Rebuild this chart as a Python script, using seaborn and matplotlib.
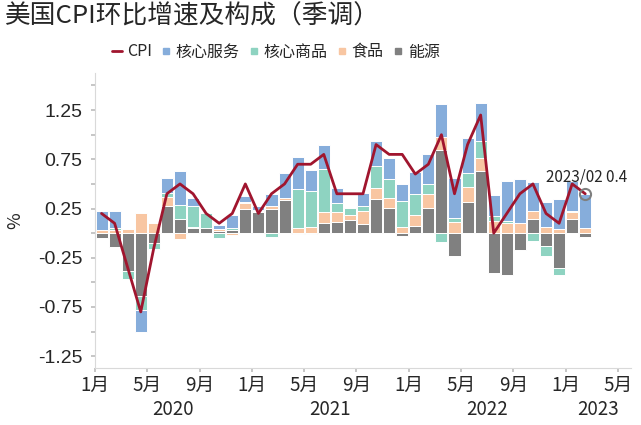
import numpy as np
import pandas as pd
import matplotlib
matplotlib.use('Agg')
import matplotlib.pyplot as plt
import matplotlib.transforms as mtransforms
from matplotlib.lines import Line2D
import seaborn as sns

# --- 数据：美国CPI环比（季调）及各分项拉动，2020/01 - 2023/02 ---
months = pd.date_range('2020-01-01', '2023-02-01', freq='MS').strftime('%Y/%m').tolist()

services = [0.19, 0.17, 0.00, -0.22, 0.00, 0.15, 0.35, 0.08, 0.00, 0.045,
            0.135, 0.06, 0.04, 0.125, 0.25, 0.32, 0.21, 0.25, 0.15, 0.00,
            0.135, 0.256, 0.21, 0.17, 0.23, 0.30, 0.33, 0.41, 0.355, 0.39,
            0.22, 0.40, 0.45, 0.29, 0.245, 0.305, 0.30, 0.34]
goods = [0.00, 0.013, -0.09, -0.14, -0.06, 0.04, 0.145, 0.21, 0.15, -0.045,
         0.013, 0.017, 0.01, -0.04, 0.00, 0.40, 0.37, 0.44, 0.10, 0.07,
         0.057, 0.22, 0.196, 0.26, 0.21, 0.10, -0.085, 0.034, 0.145, 0.17,
         0.05, 0.02, 0.00, -0.077, -0.108, -0.07, 0.017, 0.00]
food = [0.034, 0.037, 0.04, 0.20, 0.10, 0.09, -0.057, 0.015, 0.00, 0.017,
        -0.017, 0.06, 0.02, 0.03, 0.025, 0.05, 0.06, 0.11, 0.10, 0.05,
        0.13, 0.118, 0.094, 0.067, 0.115, 0.14, 0.135, 0.118, 0.15, 0.135,
        0.12, 0.105, 0.105, 0.085, 0.067, 0.042, 0.07, 0.055]
energy = [-0.05, -0.14, -0.38, -0.64, -0.10, 0.28, 0.14, 0.05, 0.05, 0.024,
          0.037, 0.243, 0.21, 0.245, 0.335, -0.01, -0.01, 0.10, 0.11, 0.135,
          0.09, 0.345, 0.26, -0.027, 0.07, 0.26, 0.845, -0.228, 0.32, 0.63,
          -0.405, -0.43, -0.17, 0.14, -0.127, -0.352, 0.142, -0.04]
cpi = [0.2, 0.1, -0.35, -0.8, -0.15, 0.4, 0.5, 0.4, 0.2, 0.1,
       0.2, 0.5, 0.2, 0.4, 0.5, 0.7, 0.7, 0.8, 0.4, 0.4,
       0.4, 0.9, 0.8, 0.8, 0.6, 0.7, 1.0, 0.4, 0.9, 1.2,
       0.0, 0.2, 0.4, 0.5, 0.2, 0.1, 0.5, 0.4]

month_labels = ['1月', '5月', '9月']
years = ['2020', '2021', '2022', '2023']

c_serv, c_goods, c_food, c_energy = '#86ADDB', '#8ED3C1', '#F8C6A2', '#808080'
c_cpi = '#A0152E'

sns.set_theme(style='white')
plt.rcParams['font.family'] = ['Noto Sans CJK SC', 'DejaVu Sans']
plt.rcParams['axes.unicode_minus'] = False

fig = plt.figure(figsize=(6.41, 4.25), dpi=100)
ax = fig.add_axes([95 / 641, 1 - 368 / 425, 536 / 641, 295.3 / 425])

# 堆叠柱：正负分别堆叠，顺序 能源 -> 食品 -> 核心商品 -> 核心服务
x = np.arange(len(months))
pos = np.zeros(len(x))
neg = np.zeros(len(x))
for vals, color in [(energy, c_energy), (food, c_food), (goods, c_goods), (services, c_serv)]:
    v = np.array(vals)
    base = np.where(v >= 0, pos, neg)
    ax.bar(x, v, bottom=base, width=0.92, color=color, edgecolor='white', linewidth=0.7)
    pos += np.clip(v, 0, None)
    neg += np.clip(v, None, 0)

sns.lineplot(x=x, y=cpi, ax=ax, color=c_cpi, linewidth=2.0, legend=False)

# 最新值标注
ax.plot(x[-1], cpi[-1], 'o', ms=8, mfc='none', mec='#7F7F7F', mew=1.5)
ax.annotate(f'{months[-1]} {cpi[-1]}', (x[-1], cpi[-1]), xytext=(-28.5, 12),
            textcoords='offset points', ha='left', va='center', fontsize=11)

ax.set_xlim(-0.5, 40.5)
ax.set_ylim(-1.37, 1.63)

xt = np.arange(-0.5, 40, 4)
ax.set_xticks(xt)
ax.set_xticklabels([month_labels[i % 3] for i in range(len(xt))], fontsize=13.5)

yt = np.arange(-1.25, 1.51, 0.25)
ax.set_yticks(yt)
ax.set_yticklabels([f'{v:.2f}' if int(round(abs(v) / 0.25)) % 2 == 1 else '' for v in yt],
                   fontsize=14, family='Liberation Sans')

ax.tick_params(axis='x', length=3, pad=2, color='#BFBFBF', direction='out', bottom=True)
ax.tick_params(axis='y', length=3, pad=6, color='#BFBFBF', direction='out', left=True)

for s in ['top', 'right']:
    ax.spines[s].set_visible(False)
for s in ['left', 'bottom']:
    ax.spines[s].set_color('#D9D9D9')
    ax.spines[s].set_linewidth(0.8)

# 年份标签
trans = mtransforms.blended_transform_factory(ax.transData, ax.transAxes)
for yr, xc in zip(years, [5.5, 17.5, 29.5, 38]):
    ax.text(xc, -0.142, yr, transform=trans, ha='center', va='center', fontsize=13.5)

fig.text(15 / 641, 0.482, '%', rotation=90, ha='center', va='center', fontsize=13)
fig.text(5 / 641, 1 - 17 / 425, '美国CPI环比增速及构成（季调）', ha='left', va='center', fontsize=18.5)

handles = [Line2D([], [], color=c_cpi, lw=2),
           Line2D([], [], marker='s', ls='none', ms=4.5, color=c_serv),
           Line2D([], [], marker='s', ls='none', ms=4.5, color=c_goods),
           Line2D([], [], marker='s', ls='none', ms=4.5, color=c_food),
           Line2D([], [], marker='s', ls='none', ms=4.5, color=c_energy)]
fig.legend(handles, ['CPI', '核心服务', '核心商品', '食品', '能源'], loc='center',
           bbox_to_anchor=(276 / 641, 1 - 52 / 425), ncol=5, frameon=False, fontsize=11.5,
           handlelength=0.6, handletextpad=0.3, columnspacing=0.6)

fig.savefig('out.png', dpi=100)
